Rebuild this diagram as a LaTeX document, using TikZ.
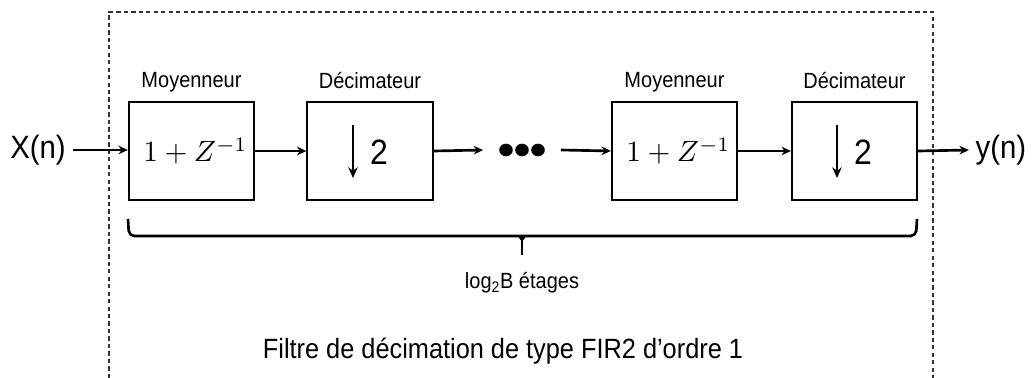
\documentclass[tikz,border=0pt]{standalone}
\usepackage{fontspec}
\setmainfont{Liberation Sans}
\usetikzlibrary{arrows.meta}
\newcommand{\tallt}[1]{\scalebox{1}[1.1]{#1}}
\tikzset{
  blk/.style={draw=black, line width=1.5pt, minimum width=94pt, minimum height=73.5pt, inner sep=0pt},
  lbl/.style={font=\fontsize{15}{18}\selectfont, inner sep=0pt},
  sig/.style={font=\fontsize{22}{26}\selectfont, inner sep=5pt},
  conn/.style={line width=2pt, -{Stealth[length=7pt,width=6.5pt]}},
  frame/.style={line width=0.9pt, draw=black!80, dash pattern=on 3.2pt off 2.4pt},
  brace/.style={line width=2pt, line join=round},
}
\begin{document}
\begin{tikzpicture}[x=0.75pt, y=-0.75pt]
\useasboundingbox (0,0) rectangle (1033,378);
% dashed frame
\draw[frame] (109,378) -- (109,12) -- (933,12) -- (933,378);
% blocks
\node[blk] (b1) at (191.5,151) {\hspace{6pt}\scalebox{2.2}{$1+Z^{-1}$}};
\node[blk] (b2) at (370,151) {};
\node[blk] (b3) at (674.5,151) {\hspace{6pt}\scalebox{2.2}{$1+Z^{-1}$}};
\node[blk] (b4) at (854.5,151) {};
% decimator contents
\draw[line width=2.2pt, -{Stealth[length=8pt,width=7pt]}] (353,125) -- (353,178);
\node[font=\fontsize{24}{28}\selectfont, inner sep=0pt] (d2) at (379,152) {\tallt{2}};
\draw[line width=2.2pt, -{Stealth[length=8pt,width=7pt]}] (837,125) -- (837,178);
\node[font=\fontsize{24}{28}\selectfont, inner sep=0pt] (d4) at (863,152) {\tallt{2}};
% labels
\node[lbl] (l1) at (191.5,82) {\tallt{Moyenneur}};
\node[lbl] (l2) at (370,81) {\tallt{Décimateur}};
\node[lbl] (l3) at (674.5,82) {\tallt{Moyenneur}};
\node[lbl] (l4) at (854.5,81) {\tallt{Décimateur}};
% signals
\node[sig] (xin) at (38,150) {\tallt{X(n)}};
\node[sig] (yout) at (1001,150) {\tallt{y(n)}};
% dots
\node[minimum width=58pt, minimum height=10pt, inner sep=0pt] (dots) at (522,150) {};
\foreach \cx in {506,522,538} \fill (\cx,150) ellipse (6.8 and 6.3);
% connectors
\draw[conn] (xin.east) -- (b1.west |- xin.east);
\draw[conn] (b1.east) -- (b2.west);
\draw[conn] (b2.east) -- (dots.west);
\draw[conn] (dots.east) -- (b3.west);
\draw[conn] (b3.east) -- (b4.west);
\draw[conn] (b4.east) -- (yout.west);
% brace
\draw[brace, rounded corners=4pt] (128,219) -- (129,236) -- (916,236) -- (917,219);
\draw[brace] (522,236) -- (522,255);
\fill (517,235) -- (527,235) -- (522,242) -- cycle;
\node[lbl] (st) at (522,283) {\tallt{log\textsubscript{2}B étages}};
% title
\node[font=\fontsize{19}{23}\selectfont, inner sep=0pt] (title) at (503,351) {\tallt{Filtre de décimation de type FIR2 d’ordre 1}};
\end{tikzpicture}
\end{document}
